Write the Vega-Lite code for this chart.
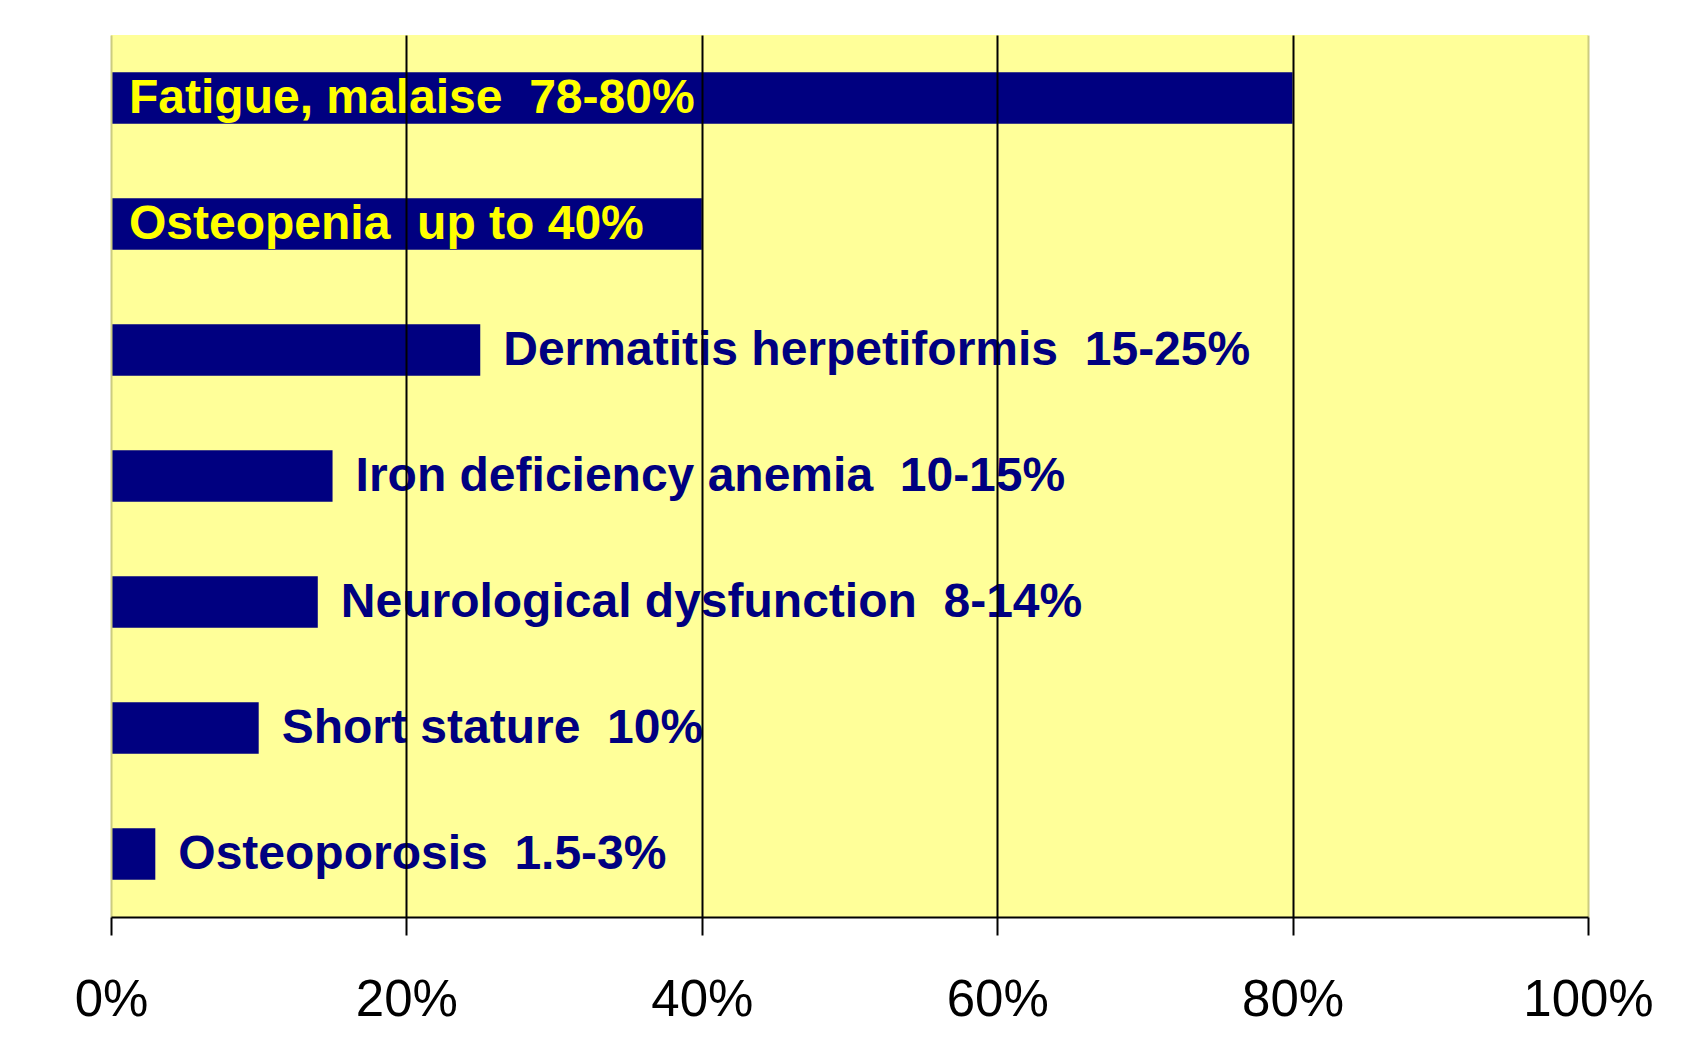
{
  "$schema": "https://vega.github.io/schema/vega-lite/v6.json",
  "autosize": "none",
  "width": 1477,
  "height": 882,
  "padding": {"left": 111, "top": 35, "right": 101, "bottom": 147},
  "background": "white",
  "config": {
    "view": {"fill": "#FFFF99", "stroke": null},
    "font": "Liberation Sans"
  },
  "data": {
    "values": [
      {"symptom": "Fatigue, malaise", "label": "Fatigue, malaise\u00a0 78-80%", "value": 0.80},
      {"symptom": "Osteopenia", "label": "Osteopenia\u00a0 up to 40%", "value": 0.40},
      {"symptom": "Dermatitis herpetiformis", "label": "Dermatitis herpetiformis\u00a0 15-25%", "value": 0.25},
      {"symptom": "Iron deficiency anemia", "label": "Iron deficiency anemia\u00a0 10-15%", "value": 0.15},
      {"symptom": "Neurological dysfunction", "label": "Neurological dysfunction\u00a0 8-14%", "value": 0.14},
      {"symptom": "Short stature", "label": "Short stature\u00a0 10%", "value": 0.10},
      {"symptom": "Osteoporosis", "label": "Osteoporosis\u00a0 1.5-3%", "value": 0.03}
    ]
  },
  "encoding": {
    "y": {
      "field": "symptom",
      "type": "nominal",
      "sort": null,
      "axis": null,
      "scale": {"paddingInner": 0.59, "paddingOuter": 0.295}
    }
  },
  "layer": [
    {
      "mark": {"type": "bar", "color": "#000080"},
      "encoding": {
        "x": {
          "field": "value",
          "type": "quantitative",
          "scale": {"domain": [0, 1], "nice": false},
          "axis": {
            "values": [0, 0.2, 0.4, 0.6, 0.8, 1],
            "format": "%",
            "title": null,
            "zindex": 1,
            "grid": true,
            "gridColor": {"condition": {"test": "datum.value == 0 || datum.value == 1", "value": "#cccc80"}, "value": "black"},
            "gridWidth": 2,
            "gridOpacity": 1,
            "domainColor": "black",
            "domainWidth": 2,
            "tickColor": "black",
            "tickWidth": 2,
            "tickSize": 18,
            "labelFont": "Liberation Sans",
            "labelFontSize": 51,
            "labelColor": "black",
            "labelBaseline": "alphabetic",
            "labelPadding": 80,
            "labelFlush": false,
            "labelOverlap": false
          }
        }
      }
    },
    {
      "transform": [{"filter": "datum.value >= 0.4"}],
      "mark": {"type": "text", "align": "left", "baseline": "alphabetic", "dx": 18, "dy": 15, "fontSize": 48, "fontWeight": "bold", "color": "#FFFF00"},
      "encoding": {
        "x": {"datum": 0, "type": "quantitative"},
        "text": {"field": "label"}
      }
    },
    {
      "transform": [{"filter": "datum.value < 0.4"}],
      "mark": {"type": "text", "align": "left", "baseline": "alphabetic", "dx": 23, "dy": 15, "fontSize": 48, "fontWeight": "bold", "color": "#000080"},
      "encoding": {
        "x": {"field": "value", "type": "quantitative"},
        "text": {"field": "label"}
      }
    }
  ]
}
